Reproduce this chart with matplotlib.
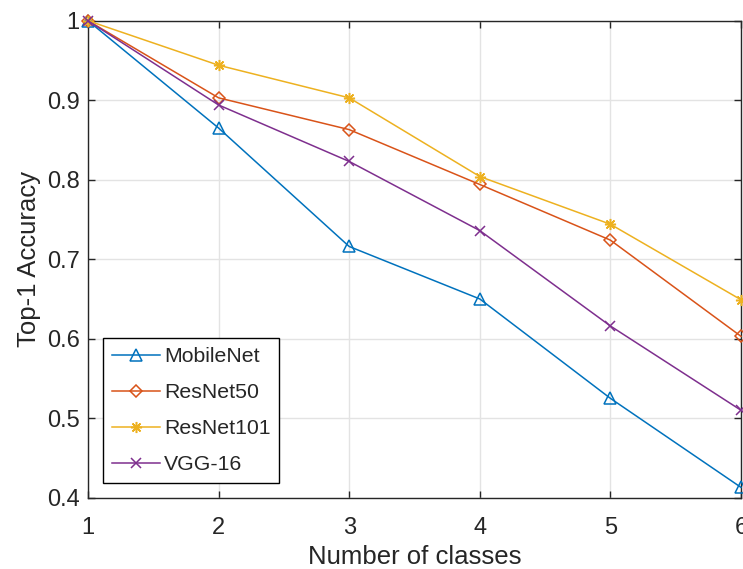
import matplotlib
matplotlib.use("Agg")
import matplotlib.pyplot as plt

plt.rcParams["font.family"] = ["Liberation Sans", "DejaVu Sans"]

num_classes = [1, 2, 3, 4, 5, 6]
mobilenet = [1.0, 0.865, 0.716, 0.650, 0.525, 0.413]
resnet50 = [1.0, 0.903, 0.863, 0.794, 0.724, 0.603]
resnet101 = [1.0, 0.944, 0.903, 0.804, 0.744, 0.649]
vgg16 = [1.0, 0.894, 0.823, 0.736, 0.616, 0.510]

series_names = ["MobileNet", "ResNet50", "ResNet101", "VGG-16"]
series_colors = ["#0072BD", "#D95319", "#EDB120", "#7E2F8E"]
# triangle, diamond, asterisk (8 arms), cross
series_markers = ["^", "D", (8, 2, 0), "x"]
marker_sizes = [8, 6.5, 8, 6.5]
yticks = [0.4, 0.5, 0.6, 0.7, 0.8, 0.9, 1.0]
ytick_labels = ["0.4", "0.5", "0.6", "0.7", "0.8", "0.9", "1"]

fig = plt.figure(figsize=(7.43, 5.69), dpi=100)
ax = fig.add_axes([0.1184, 0.1253, 0.8789, 0.8383])

axis_grey = "#262626"

all_series = [mobilenet, resnet50, resnet101, vgg16]
for vals, name, col, mk, ms in zip(all_series, series_names, series_colors,
                                   series_markers, marker_sizes):
    ax.plot(num_classes, vals, color=col, marker=mk, label=name,
            linewidth=1.1, markersize=ms, markerfacecolor="none",
            markeredgecolor=col, markeredgewidth=1.1, clip_on=False,
            zorder=3)

ax.set_xlim(1, 6)
ax.set_ylim(0.4, 1.0)
ax.set_xticks(num_classes)
ax.set_yticks(yticks)
ax.set_yticklabels(ytick_labels)

ax.grid(True, color="#e3e3e3", linewidth=1.0)
ax.set_axisbelow(True)

for sp in ax.spines.values():
    sp.set_color(axis_grey)
    sp.set_linewidth(1.0)

ax.tick_params(axis="both", direction="in", length=5, width=1.0,
               color=axis_grey, labelcolor=axis_grey, labelsize=17,
               top=True, right=True)
ax.tick_params(axis="x", pad=14)
ax.tick_params(axis="y", pad=6)

ax.set_xlabel("Number of classes", fontsize=18.5, color=axis_grey, labelpad=4)
ax.set_ylabel("Top-1 Accuracy", fontsize=18.5, color=axis_grey, labelpad=4)

leg = ax.legend(loc="lower left", bbox_to_anchor=(0.023, 0.031),
                borderaxespad=0, fontsize=15.3, frameon=True, fancybox=False,
                edgecolor="black", framealpha=1, handlelength=2.25,
                handletextpad=0.2, labelspacing=0.8, borderpad=0.42)
leg.get_frame().set_linewidth(1.0)
for t in leg.get_texts():
    t.set_color(axis_grey)

fig.savefig("out.png", dpi=100)
